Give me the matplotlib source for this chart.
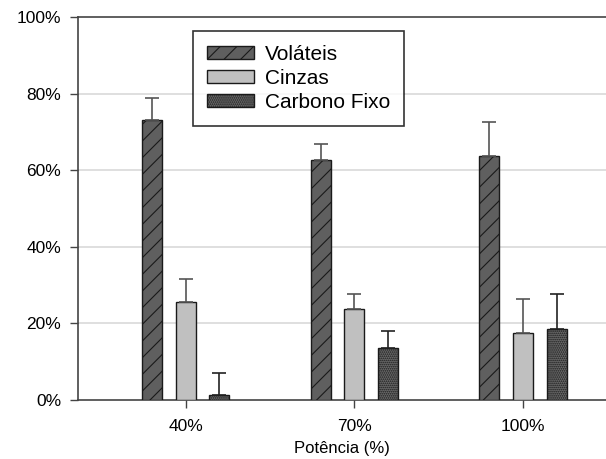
import matplotlib
matplotlib.use("Agg")
import matplotlib.pyplot as plt
import numpy as np

plt.rcParams['font.family'] = ['Liberation Sans', 'DejaVu Sans']
plt.rcParams['hatch.linewidth'] = 0.8

groups = ['40%', '70%', '100%']
series = ['Voláteis', 'Cinzas', 'Carbono Fixo']
volateis = [73.1, 62.6, 63.8]
cinzas = [25.6, 23.7, 17.5]
carbono = [1.2, 13.6, 18.5]
volateis_err = [5.8, 4.2, 8.9]
cinzas_err = [6.0, 4.1, 8.9]
carbono_err = [5.8, 4.4, 9.1]
yticks = [0, 20, 40, 60, 80, 100]

values = [volateis, cinzas, carbono]
errors = [volateis_err, cinzas_err, carbono_err]
colors = ['#5f5f5f', '#c0c0c0', '#6a6a6a']
hatches = ['//', '', '........']
err_colors = ['#555555', '#555555', '#222222']

fig = plt.figure(figsize=(6.06, 4.59), dpi=100)
ax = fig.add_axes([78/606, 59/459, 1 - 78/606, (400-17)/459])

x = np.arange(len(groups))
width = 0.1185
offsets = [-0.2, 0.0, 0.2]
for vals, errs, col, h, ec, off, lab in zip(values, errors, colors, hatches, err_colors, offsets, series):
    ax.bar(x + off, vals, width, color=col, edgecolor='#1a1a1a', linewidth=1.0,
           hatch=h, label=lab, zorder=3)
    ax.errorbar(x + off, vals, yerr=[np.zeros(len(errs)), errs], fmt='none',
                ecolor=ec, elinewidth=1.2, capsize=5, capthick=1.2, zorder=4)

ax.set_xlim(-0.637, 2.49)
ax.set_ylim(0, 100)
ax.set_yticks(yticks)
ax.set_yticklabels([f'{t}%' for t in yticks], fontsize=12.5)
ax.set_xticks(x)
ax.set_xticklabels(groups, fontsize=12.5)
ax.set_xlabel('Potência (%)', fontsize=12, labelpad=5)

for yv in yticks[1:-1]:
    ax.axhline(yv, color='#d9d9d9', linewidth=1.2, zorder=1)

ax.spines['right'].set_visible(False)
for s in ['left', 'bottom', 'top']:
    ax.spines[s].set_color('#444444')
    ax.spines[s].set_linewidth(1.2)
ax.tick_params(axis='both', direction='out', length=6, width=1, color='#444444', labelcolor='black')
ax.tick_params(axis='y', pad=6)
ax.tick_params(axis='x', pad=8)

leg = ax.legend(loc='upper left', bbox_to_anchor=(193/606, 1 - 31/459),
                bbox_transform=fig.transFigure, fontsize=15, frameon=True,
                fancybox=False, edgecolor='black', borderpad=0.65,
                handlelength=2.3, handleheight=0.6, handletextpad=0.5,
                labelspacing=0.25, borderaxespad=0)
leg.get_frame().set_linewidth(1.2)
leg.set_zorder(5)

fig.savefig('out.png', dpi=100)
